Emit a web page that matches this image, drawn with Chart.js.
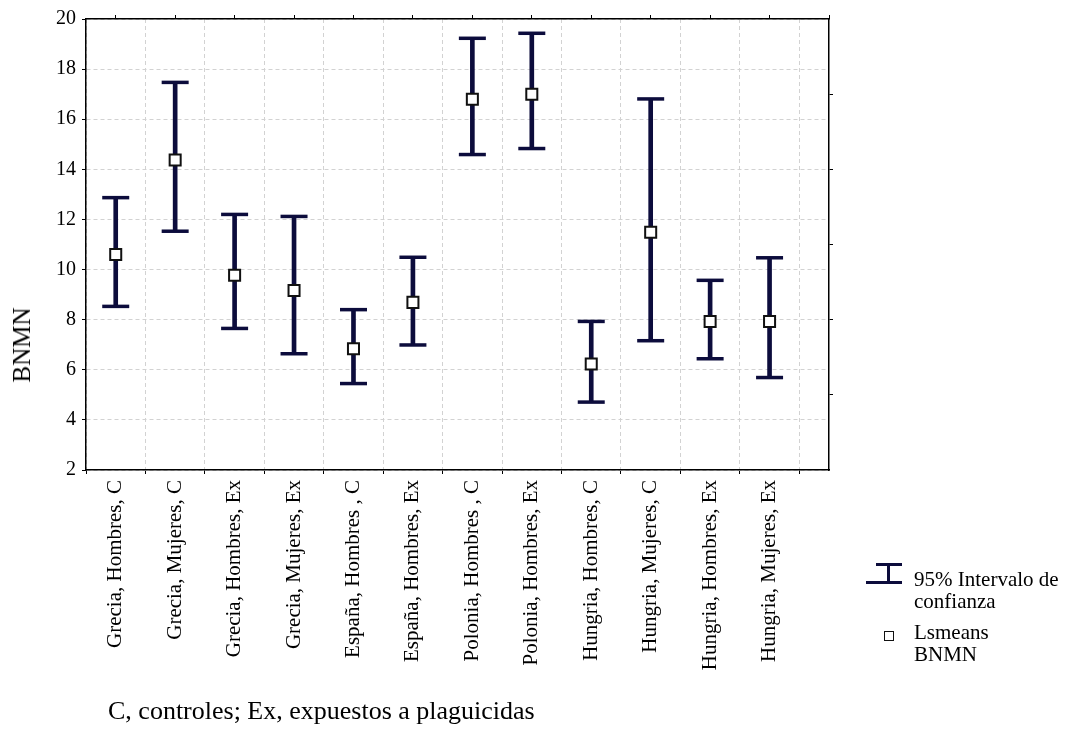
<!DOCTYPE html>
<html>
<head>
<meta charset="utf-8">
<script src="https://cdn.jsdelivr.net/npm/chart.js@4/dist/chart.umd.min.js"></script>
<style>
    body { margin: 0; background: #fff; }
    #wrap { position: relative; width: 1071px; height: 742px; font-family: 'Liberation Serif', 'Times New Roman', serif; color: #000; }
    #chart { position: absolute; left: 0; top: 0; }
    .ytitle { position: absolute; left: 22px; top: 345px; font-size: 25px; transform: translate(-50%, -50%) rotate(-90deg); white-space: nowrap; }
    .note { position: absolute; left: 108px; top: 698px; font-size: 26px; line-height: 26px; white-space: nowrap; }
    .leg-text { position: absolute; left: 914px; font-size: 21px; line-height: 22px; }
    .bar { position: absolute; background: #0c0c3c; }
    .sq { position: absolute; width: 8px; height: 8px; border: 1.5px solid #111; background: #fff; }
</style>
</head>
<body>
<div id="wrap">
    <canvas id="chart" width="1071" height="742"></canvas>
    <div class="ytitle">BNMN</div>

    <!-- leyenda -->
    <div class="bar" style="left:876px;top:563px;width:26px;height:3px;"></div>
    <div class="bar" style="left:887px;top:563px;width:3px;height:20px;"></div>
    <div class="bar" style="left:866px;top:581px;width:36px;height:3px;"></div>
    <div class="leg-text" style="top:568px;">95% Intervalo de<br>confianza</div>
    <div class="sq" style="left:884px;top:631px;"></div>
    <div class="leg-text" style="top:621px;">Lsmeans<br>BNMN</div>

    <div class="note">C, controles; Ex, expuestos a plaguicidas</div>
</div>

<script>
// ===============================
// DATOS
// ===============================
const categorias = [
    "Grecia, Hombres, C", "Grecia, Mujeres, C", "Grecia, Hombres, Ex", "Grecia, Mujeres, Ex",
    "España, Hombres , C", "España, Hombres, Ex", "Polonia, Hombres , C", "Polonia, Hombres, Ex",
    "Hungria, Hombres, C", "Hungria, Mujeres, C", "Hungria, Hombres, Ex", "Hungria, Mujeres, Ex"
];
const medias   = [10.6, 14.37, 9.77, 9.16, 6.84, 8.69, 16.8, 17.0, 6.23, 11.49, 7.93, 7.93];
const limInf   = [8.53, 11.53, 7.65, 6.64, 5.45, 6.99, 14.59, 14.83, 4.71, 7.16, 6.44, 5.69];
const limSup   = [12.87, 17.47, 12.2, 12.12, 8.4, 10.49, 19.23, 19.43, 7.93, 16.81, 9.57, 10.47];
const yTicks   = [2, 4, 6, 8, 10, 12, 14, 16, 18, 20];
const yTicksDer = [5, 8, 11, 14, 17];

const NAVY = "#0c0c3c";
const FONT = "'Liberation Serif', 'Times New Roman', serif";

// posicion de cada categoria en el eje x (0.5, 1.5, ...)
const xPos = categorias.map((c, i) => i + 0.5);

const barras = xPos.map((x, i) => ({ x: x, y: [limInf[i], limSup[i]] }));
const topes = [];
xPos.forEach((x, i) => {
    topes.push({ x: x, y: limInf[i] });
    topes.push({ x: x, y: limSup[i] });
});
const puntos = xPos.map((x, i) => ({ x: x, y: medias[i] }));

const gridGris = "#d2d2d2";

new Chart(document.getElementById("chart"), {
    type: "bar",
    data: {
        datasets: [
            {
                type: "scatter",
                data: puntos,
                order: 0,
                pointStyle: "rect",
                radius: 7.8,
                borderWidth: 2,
                borderColor: "#111",
                backgroundColor: "#fff"
            },
            {
                type: "scatter",
                data: topes,
                order: 1,
                pointStyle: "line",
                radius: 13.5,
                borderWidth: 3.5,
                borderColor: NAVY
            },
            {
                type: "bar",
                data: barras,
                order: 2,
                barThickness: 4,
                backgroundColor: NAVY
            }
        ]
    },
    options: {
        responsive: false,
        animation: false,
        layout: { padding: { left: 0, top: 15, right: 238, bottom: 0 } },
        plugins: { legend: { display: false }, tooltip: { enabled: false } },
        scales: {
            x: {
                type: "linear",
                position: "bottom",
                offset: false,
                min: 0,
                max: 12.5,
                afterBuildTicks: s => { s.ticks = xPos.map(v => ({ value: v })); },
                afterFit: s => { s.height = 272; },
                grid: { offset: true, color: gridGris, tickColor: "#000", tickLength: 4, tickBorderDash: [] },
                border: { color: "#000", width: 1.5, dash: [4, 3] },
                ticks: {
                    autoSkip: false,
                    minRotation: 90,
                    maxRotation: 90,
                    padding: 6,
                    color: "#000",
                    font: { family: FONT, size: 21 },
                    callback: v => categorias[Math.round(v - 0.5)]
                }
            },
            x2: {
                type: "linear",
                position: "top",
                offset: false,
                min: 0,
                max: 12.5,
                afterBuildTicks: s => { s.ticks = xPos.map(v => ({ value: v + 0.5 })); },
                afterFit: s => { s.height = 4; },
                grid: { drawOnChartArea: false, tickColor: "#000", tickLength: 4 },
                border: { color: "#000", width: 1.5 },
                ticks: { display: false }
            },
            y: {
                type: "linear",
                position: "left",
                min: 2,
                max: 20,
                afterBuildTicks: s => { s.ticks = yTicks.map(v => ({ value: v })); },
                afterFit: s => { s.width = 86; },
                grid: { color: gridGris, tickColor: "#000", tickLength: 4, tickBorderDash: [] },
                border: { color: "#000", width: 1.5, dash: [4, 3] },
                ticks: { padding: 6, color: "#000", font: { family: FONT, size: 20 } }
            },
            y2: {
                type: "linear",
                position: "right",
                min: 2,
                max: 20,
                afterBuildTicks: s => { s.ticks = yTicksDer.map(v => ({ value: v })); },
                afterFit: s => { s.width = 4; },
                grid: { drawOnChartArea: false, tickColor: "#000", tickLength: 4 },
                border: { color: "#000", width: 1.5 },
                ticks: { display: false }
            }
        }
    }
});
</script>
</body>
</html>
